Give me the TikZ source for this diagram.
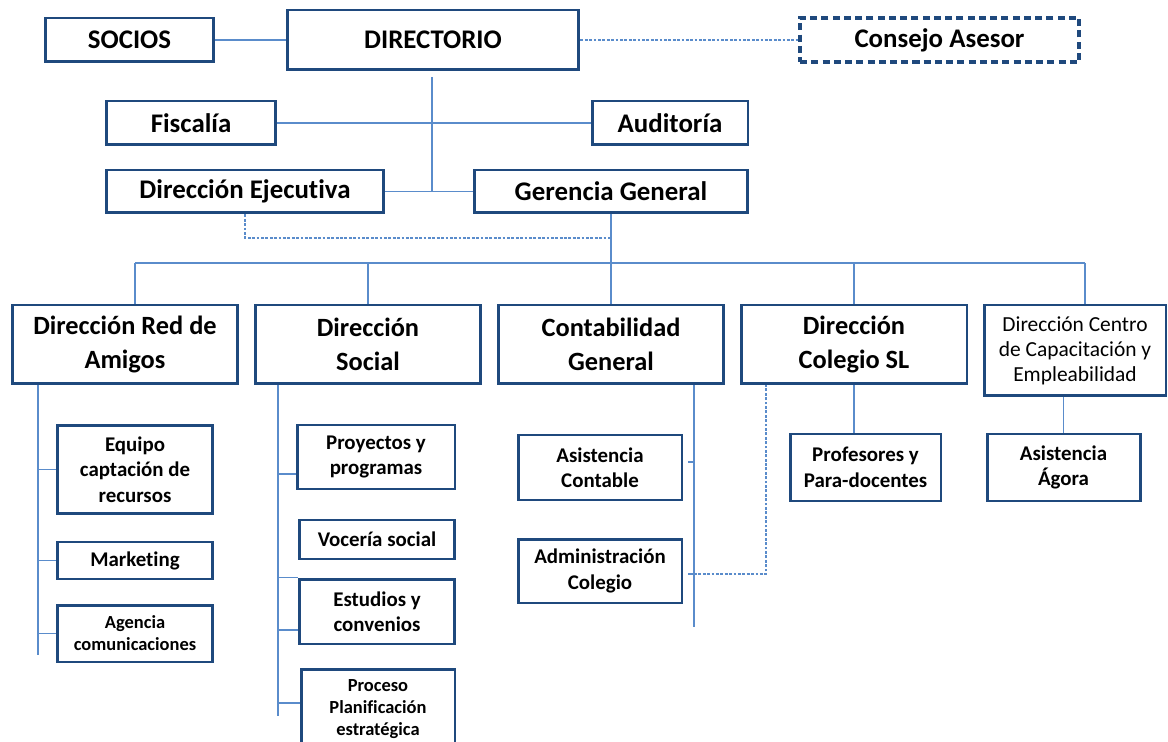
\documentclass[tikz,border=0pt]{standalone}
\usepackage{fontspec}
\setmainfont{Carlito}[Ligatures=NoCommon]
\usetikzlibrary{calc}
\definecolor{boxblue}{HTML}{1F497D}
\definecolor{lineblue}{HTML}{5A8CCB}

\begin{document}
\begin{tikzpicture}[
        x=0.02cm,
        y=-0.02cm,
        font=\bfseries
    ]
    \tikzset{
        boxa/.style = {rectangle, draw=boxblue, line width=1.7pt, align=center, fill=white, inner sep=1pt, font=\bfseries\fontsize{15.3}{19}\selectfont},
        boxad/.style = {boxa, line width=1.8pt, dash pattern=on 4pt off 2.4pt},
        boxb/.style = {boxa, font=\bfseries\fontsize{15}{19.3}\selectfont},
        boxr/.style = {boxa, font=\fontsize{12.2}{14.2}\selectfont},
        boxc/.style = {boxa, font=\bfseries\fontsize{11.9}{14.5}\selectfont},
        boxs/.style = {boxa, font=\bfseries\fontsize{10.5}{12.5}\selectfont},
        edgel/.style = {-, line width=0.8pt, lineblue},
        edged/.style = {-, line width=0.8pt, lineblue, dash pattern=on 1.6pt off 0.9pt},
    }
    \clip (0,0) rectangle (1168,742);
    %
    \node[boxa, minimum width=3.38cm, minimum height=0.88cm] at (129.5,40) (socios) {SOCIOS};
    \node[boxa, minimum width=5.84cm, minimum height=1.2cm] at (433,40) (directorio) {DIRECTORIO};
    \node[boxad, minimum width=5.58cm, minimum height=0.88cm] at (939.5,40) (consejo) {Consejo Asesor};
    \node[boxa, minimum width=3.4cm, minimum height=0.88cm] at (191,123) (fiscalia) {Fiscalía};
    \node[boxa, minimum width=3.12cm, minimum height=0.88cm] at (670,123) (auditoria) {Auditoría};
    \node[boxa, minimum width=5.56cm, minimum height=0.86cm] at (245,191.5) (direjec) {Dirección Ejecutiva};
    \node[boxa, minimum width=5.48cm, minimum height=0.86cm] at (611,191.5) (gerencia) {Gerencia General};
    %
    \node[boxb, minimum width=4.52cm, minimum height=1.58cm] at (125,344.5) (redamigos) {Dirección Red de\\Amigos};
    \node[boxb, minimum width=4.52cm, minimum height=1.58cm] at (368,344.5) (social) {Dirección\\Social};
    \node[boxb, minimum width=4.52cm, minimum height=1.58cm] at (611,344.5) (contab) {Contabilidad\\General};
    \node[boxb, minimum width=4.52cm, minimum height=1.58cm] at (854,344.5) (colegio) {Dirección\\Colegio SL};
    \node[boxr, minimum width=3.64cm, minimum height=1.82cm] at (1075,350.5) (centro) {Dirección Centro\\de Capacitación y\\Empleabilidad};
    %
    \node[boxc, minimum width=3.12cm, minimum height=1.78cm] at (135,469.5) (equipo) {Equipo\\captación de\\recursos};
    \node[boxc, minimum width=3.12cm, minimum height=0.74cm] at (135,560.5) (marketing) {Marketing};
    \node[boxs, minimum width=3.12cm, minimum height=1.14cm] at (135,633.5) (agencia) {Agencia\\comunicaciones};
    \node[boxc, minimum width=3.16cm, minimum height=1.28cm] at (376,457) (proyectos) {Proyectos y\\programas};
    \node[boxc, minimum width=3.12cm, minimum height=0.78cm] at (377,539.5) (voceria) {Vocería social};
    \node[boxc, minimum width=3.12cm, minimum height=1.3cm] at (377,611.5) (estudios) {Estudios y\\convenios};
    \node[boxs, minimum width=3.08cm, minimum height=1.62cm] at (378,709.5) (proceso) {Proceso\\Planificación\\estratégica};
    \node[boxc, minimum width=3.28cm, minimum height=1.3cm] at (600,467.5) (asiscont) {Asistencia\\Contable};
    \node[boxc, minimum width=3.28cm, minimum height=1.28cm] at (600,571) (admcol) {Administración\\Colegio};
    \node[boxc, minimum width=3.02cm, minimum height=1.34cm] at (865.5,467.5) (profes) {Profesores y\\Para-docentes};
    \node[boxc, minimum width=3.06cm, minimum height=1.34cm] at (1063.5,467.5) (agora) {Asistencia\\Ágora};
    %
    \draw[edgel] (socios) edge (directorio);
    \draw[edged] (directorio) edge (consejo);
    \draw[edgel] (fiscalia) edge (auditoria);
    \draw[edgel] (direjec) edge (gerencia);
    \coordinate (dtop) at (432,77);
    \draw[edgel] (dtop) -- (dtop |- direjec.east);
    \draw[edgel] (gerencia) edge (contab);
    \coordinate (dj) at (245,238);
    \draw[edged] (direjec.south) -- (dj) -- (dj -| gerencia.south);
    %
    \coordinate (busl) at (135,263);
    \coordinate (busr) at (1085,263);
    \draw[edgel] (busl) -- (busr);
    \draw[edgel] (busl) -- (busl |- redamigos.north);
    \draw[edgel] (busr) -- (busr |- centro.north);
    \draw[edgel] (social.north) -- (social.north |- busl);
    \draw[edgel] (colegio.north) -- (colegio.north |- busl);
    %
    \coordinate (ra) at (38,655);
    \draw[edgel] (ra |- redamigos.south) -- (ra);
    \draw[edgel] (ra |- equipo.west) -- (equipo.west);
    \draw[edgel] (ra |- marketing.west) -- (marketing.west);
    \draw[edgel] (ra |- agencia.west) -- (agencia.west);
    %
    \coordinate (so) at (278,716);
    \coordinate (s1) at ($(proyectos.west)+(0,17)$);
    \coordinate (s2) at ($(estudios.west)+(0,18.5)$);
    \coordinate (s3) at ($(proceso.west)+(0,-6.5)$);
    \draw[edgel] (so |- social.south) -- (so);
    \draw[edgel] (so |- s1) -- (s1);
    \draw[edgel] (so |- estudios.north west) -- (estudios.north west);
    \draw[edgel] (so |- s2) -- (s2);
    \draw[edgel] (so |- s3) -- (s3);
    %
    \coordinate (ct) at (694,627);
    \coordinate (c1) at ($(asiscont.east)+(5,-5.5)$);
    \coordinate (c2) at ($(admcol.east)+(5,3)$);
    \draw[edgel] (ct |- contab.south) -- (ct);
    \draw[edgel] (ct |- c1) -- (c1);
    \draw[edgel] (ct |- c2) -- (c2);
    \coordinate (cd) at (766,574);
    \draw[edged] (ct |- cd) -- (cd) -- (cd |- colegio.south);
    %
    \draw[edgel] (colegio.south) -- (colegio.south |- profes.north);
    \draw[edgel] (agora.north) -- (agora.north |- centro.south);
\end{tikzpicture}
\end{document}
